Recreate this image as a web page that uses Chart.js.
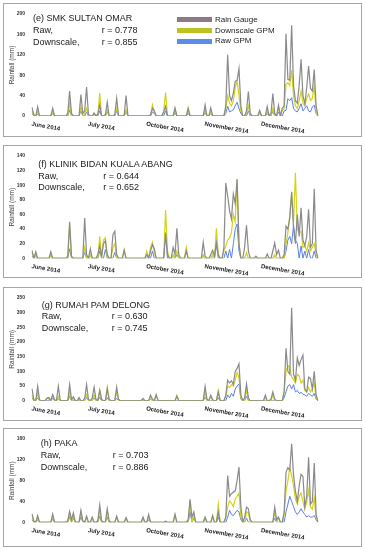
<!DOCTYPE html>
<html>
<head>
<meta charset="utf-8">
<script src="https://cdn.jsdelivr.net/npm/chart.js@4.4.1/dist/chart.umd.min.js"></script>
<style>
body{margin:0;width:366px;height:550px;background:#fff;position:relative;overflow:hidden;font-family:"Liberation Sans",Arial,sans-serif;color:#1a1a1a}
.panel{position:absolute;left:3px;width:359px;box-sizing:border-box;border:1px solid #a6a6a6}
.t{position:absolute;font-size:9px;line-height:12px;white-space:nowrap}
.lg{position:absolute;left:215px;font-size:8px;line-height:10px;white-space:nowrap;color:#222}
.bx{position:absolute;left:177px;width:35px;height:5px}
</style>
</head>
<body>
<div class="panel" style="top:3px;height:134px"><canvas id="c0"></canvas></div>
<div class="panel" style="top:145px;height:133px"><canvas id="c1"></canvas></div>
<div class="panel" style="top:287px;height:134px"><canvas id="c2"></canvas></div>
<div class="panel" style="top:428px;height:119px"><canvas id="c3"></canvas></div>

<!-- station notes -->
<div class="t" style="left:33px;top:12px">(e) SMK SULTAN OMAR</div>
<div class="t" style="left:33px;top:24px">Raw,</div><div class="t" style="left:101.7px;top:24px">r = 0.778</div>
<div class="t" style="left:33px;top:36px">Downscale,</div><div class="t" style="left:101.7px;top:36px">r = 0.855</div>

<div class="t" style="left:38.3px;top:158px">(f) KLINIK BIDAN KUALA ABANG</div>
<div class="t" style="left:38.3px;top:169.7px">Raw,</div><div class="t" style="left:103.3px;top:169.7px">r = 0.644</div>
<div class="t" style="left:38.3px;top:181.3px">Downscale,</div><div class="t" style="left:103.3px;top:181.3px">r = 0.652</div>

<div class="t" style="left:41.7px;top:298.5px">(g) RUMAH PAM DELONG</div>
<div class="t" style="left:41.7px;top:310.3px">Raw,</div><div class="t" style="left:111.7px;top:310.3px">r = 0.630</div>
<div class="t" style="left:41.7px;top:322px">Downscale,</div><div class="t" style="left:111.7px;top:322px">r = 0.745</div>

<div class="t" style="left:40.7px;top:437px">(h) PAKA</div>
<div class="t" style="left:40.7px;top:449px">Raw,</div><div class="t" style="left:112.7px;top:449px">r = 0.703</div>
<div class="t" style="left:40.7px;top:461px">Downscale,</div><div class="t" style="left:112.7px;top:461px">r = 0.886</div>

<!-- legend -->
<div class="bx" style="top:17px;background:#8e7a86"></div><div class="lg" style="top:15.3px">Rain Gauge</div>
<div class="bx" style="top:27.8px;background:#bcc21f"></div><div class="lg" style="top:25.7px">Downscale GPM</div>
<div class="bx" style="top:38.5px;background:#5b8de6"></div><div class="lg" style="top:35.9px">Raw GPM</div>

<script>
// daily values, months Jun, Jul, Oct, Nov, Dec 2014
const monthNames = ['June 2014', 'July 2014', 'October 2014', 'November 2014', 'December 2014'];
const monthDays = [30, 31, 31, 30, 31];

// (e) SMK Sultan Omar
const gaugeE = [
  17,2,0,18,0,0,0,0,0,0, 0,15,0,0,0,0,0,0,0,5, 49,5,0,0,0,0,42,5,10,57,
  3,0,0,6,0,4,22,0,0,3, 27,0,0,0,3,35,0,0,0,2, 40,0,0,0,0,0,0,0,0,0,0,
  0,0,2,15,10,0,0,0,0,8, 19,0,0,0,0,16,0,0,0,0, 0,0,14,0,0,0,0,0,0,0,0,
  22,0,0,16,0,0,0,0,0,0, 0,20,120,40,30,45,68,70,93,20, 0,0,10,48,5,0,0,0,0,11,
  0,0,0,19,0,5,44,5,0,21, 0,15,20,161,72,70,178,60,30,25, 60,111,40,24,55,98,54,49,91,20,0
];
const downE = [
  10,0,0,8,0,0,0,0,0,0, 0,8,0,0,0,0,0,0,0,0, 25,0,0,0,0,0,18,0,5,15,
  0,0,0,3,0,0,45,0,0,0, 12,0,0,0,0,15,0,0,0,0, 12,0,0,0,0,0,0,0,0,0,0,
  0,0,0,22,8,0,0,0,0,10, 46,0,0,0,0,14,0,0,0,0, 0,0,17,0,0,0,0,0,0,0,0,
  12,0,0,8,0,0,0,0,0,0, 0,15,40,25,20,30,55,68,40,10, 0,0,5,20,0,0,0,0,0,5,
  0,0,0,10,0,0,15,0,0,18, 0,10,15,62,65,60,90,40,20,15, 30,49,25,20,35,43,30,35,58,10,0
];
const rawE = [
  5,0,0,4,0,0,0,0,0,0, 0,5,0,0,0,0,0,0,0,0, 12,0,0,0,0,0,10,0,0,8,
  0,0,0,5,0,0,10,0,0,0, 8,0,0,0,0,10,0,0,0,0, 8,0,0,0,0,0,0,0,0,0,0,
  0,0,0,8,5,0,0,0,0,0, 10,0,0,0,0,6,0,0,0,0, 0,0,5,0,0,0,0,0,0,0,0,
  6,0,0,5,0,0,0,0,0,0, 0,5,19,8,10,12,20,27,15,5, 0,0,0,10,0,0,0,0,0,8,
  0,0,0,5,0,0,10,0,0,8, 0,0,10,11,34,30,36,15,10,8, 15,24,10,15,20,10,8,18,21,5,0
];

// (f) Klinik Bidan Kuala Abang
const gaugeF = [
  11,0,9,0,0,0,0,0,0,0, 9,0,0,0,0,0,0,0,0,3, 50,3,0,0,0,0,0,0,55,5,
  0,13,0,0,0,5,17,3,20,24, 5,0,0,32,37,5,0,0,0,11, 0,0,0,0,0,0,0,0,0,0,0,
  5,0,10,19,13,0,0,0,0,0, 34,5,0,0,15,5,41,5,0,0, 0,10,0,0,0,0,0,0,0,0,22,
  3,0,0,5,11,3,22,5,0,0, 15,103,85,65,54,88,75,108,20,0, 0,15,45,10,0,0,0,3,0,0,
  0,0,0,6,0,0,10,21,5,11, 0,0,5,44,40,55,91,40,20,60, 30,69,25,17,30,67,15,20,95,10,0
];
const downF = [
  8,0,5,0,0,0,0,0,0,0, 5,0,0,0,0,0,0,0,0,0, 45,0,0,0,0,0,0,0,15,0,
  0,5,0,0,0,0,30,0,25,28, 0,0,0,15,20,0,0,0,0,12, 0,0,0,0,0,0,0,0,0,0,0,
  10,0,15,22,8,0,0,0,0,0, 66,10,0,0,5,0,10,0,0,0, 0,15,0,0,0,0,0,0,0,0,5,
  0,0,0,0,5,0,41,5,0,0, 10,17,25,28,35,60,50,108,20,0, 0,0,8,0,0,0,0,0,0,0,
  0,0,0,0,0,0,0,5,0,0, 0,0,0,20,35,60,88,50,117,40, 35,37,15,17,10,21,10,15,20,5,0
];
const rawF = [
  3,0,0,0,0,0,0,0,0,0, 0,0,0,0,0,0,0,0,0,0, 13,0,0,0,0,0,0,0,8,0,
  0,0,0,0,0,0,10,0,0,12, 0,0,0,0,8,0,0,0,0,0, 0,0,0,0,0,0,0,0,0,0,0,
  0,0,0,10,0,0,0,0,0,0, 35,0,0,0,0,0,5,0,0,0, 0,0,0,0,0,0,0,0,0,0,0,
  0,0,0,0,0,0,19,0,0,0, 0,10,0,12,0,20,40,47,10,0, 0,0,0,0,0,0,0,0,0,0,
  0,0,0,0,0,0,0,0,0,0, 0,0,0,10,25,30,20,45,25,20, 0,17,0,10,0,12,0,0,10,0,0
];

// (g) Rumah Pam Delong
const gaugeG = [
  41,3,0,49,3,0,0,0,8,11, 0,21,3,0,49,2,0,0,0,0, 55,5,13,0,0,11,0,0,8,55,
  5,0,10,46,5,0,35,5,0,0, 40,5,0,0,0,46,5,0,0,0, 0,0,0,0,0,0,0,0,0,8,0,
  0,0,19,5,0,21,0,0,0,0, 0,0,0,0,0,0,15,0,0,0, 0,0,0,0,0,0,0,0,0,0,0,
  49,5,0,19,3,0,0,30,0,0, 0,20,70,60,68,55,100,110,126,20, 0,10,57,10,0,0,0,0,0,0,
  0,0,19,0,0,5,30,5,0,0, 0,0,30,179,100,90,317,90,70,146, 120,140,155,40,30,80,75,40,100,20,0
];
const downG = [
  20,0,0,25,0,0,0,0,10,5, 0,20,0,0,15,0,0,0,0,0, 30,0,8,0,0,5,0,0,0,20,
  0,0,0,20,0,0,35,0,0,0, 46,0,0,0,0,30,0,0,0,0, 0,0,0,0,0,0,0,0,0,5,0,
  0,0,15,0,0,18,0,0,0,0, 0,0,0,0,0,0,19,0,0,0, 0,0,0,0,0,0,0,0,0,0,0,
  30,0,0,15,0,0,0,35,0,0, 0,15,50,45,55,50,70,96,80,10, 0,0,40,0,0,0,0,0,0,0,
  0,0,10,0,0,0,20,0,0,0, 0,0,30,100,120,113,80,73,60,90, 85,60,70,35,30,45,30,40,60,10,0
];
const rawG = [
  10,0,0,10,0,0,0,0,0,0, 0,8,0,0,5,0,0,0,0,0, 15,0,0,0,0,0,0,0,0,10,
  0,0,0,10,0,0,12,0,0,0, 10,0,0,0,0,8,0,0,0,0, 0,0,0,0,0,0,0,0,0,0,0,
  0,0,5,0,0,0,0,0,0,0, 0,0,0,0,0,0,0,0,0,0, 0,0,0,0,0,0,0,0,0,0,0,
  12,0,0,0,0,0,0,10,0,0, 0,0,20,10,25,15,40,50,57,5, 0,0,15,0,0,0,0,0,0,0,
  0,0,0,0,0,0,0,0,0,0, 0,0,10,30,50,55,40,55,30,35, 25,28,22,20,15,25,20,15,25,5,0
];

// (h) Paka
const gaugeH = [
  16,2,0,13,0,0,0,0,0,0, 0,16,0,0,0,0,0,0,0,3, 21,5,18,0,0,0,23,3,0,12,
  0,0,10,0,0,3,33,3,0,0, 26,3,0,0,0,12,0,0,0,0, 9,0,0,0,0,0,0,0,0,10,0,
  0,15,0,0,0,0,0,0,0,0, 2,0,0,0,0,16,0,0,0,0, 0,0,5,44,10,20,0,0,0,0,0,
  10,0,0,0,13,0,0,20,0,0, 0,10,90,50,55,58,60,80,106,30, 0,10,29,26,5,0,0,0,0,0,
  0,0,0,0,0,0,0,29,5,10, 0,0,20,96,105,100,151,90,60,40, 70,92,88,30,50,125,35,40,114,15,0
];
const downH = [
  10,0,0,10,0,0,0,0,0,0, 0,12,0,0,0,0,0,0,0,0, 18,0,15,0,0,0,20,0,0,10,
  0,0,8,0,0,0,25,0,0,0, 22,0,0,0,0,10,0,0,0,0, 8,0,0,0,0,0,0,0,0,8,0,
  0,12,0,0,0,0,0,0,0,0, 0,0,0,0,0,12,0,0,0,0, 0,0,0,41,0,15,0,0,0,0,0,
  8,0,0,0,10,0,0,35,0,0, 0,10,30,41,37,30,45,50,56,10, 0,0,20,18,0,0,0,0,0,0,
  0,0,0,0,0,0,0,20,0,8, 0,0,15,60,80,105,90,70,45,35, 50,56,40,25,40,62,30,25,47,10,0
];
const rawH = [
  5,0,0,5,0,0,0,0,0,0, 0,6,0,0,0,0,0,0,0,0, 10,0,8,0,0,0,10,0,0,0,
  0,0,0,0,0,0,12,0,0,0, 10,0,0,0,0,0,0,0,0,0, 0,0,0,0,0,0,0,0,0,0,0,
  0,5,0,0,0,0,0,0,0,0, 0,0,0,0,0,0,0,0,0,0, 0,0,0,20,0,8,0,0,0,0,0,
  0,0,0,0,0,0,0,10,0,0, 0,0,10,23,15,13,18,23,20,5, 0,0,8,0,0,0,0,0,0,0,
  0,0,0,0,0,0,0,8,0,0, 0,0,0,20,35,50,40,30,20,15, 20,26,20,15,10,13,10,10,13,5,0
];

// category labels, one per day
const days = [];
const monthStarts = [];
monthNames.forEach((m, i) => {
  monthStarts.push(days.length);
  for (let d = 1; d <= monthDays[i]; d++) days.push(m.split(' ')[0] + ' ' + d);
});

const panels = [
  {id: 'c0', gauge: gaugeE, down: downE, raw: rawE, max: 200, step: 40, top: 6, bottom: 20},
  {id: 'c1', gauge: gaugeF, down: downF, raw: rawF, max: 140, step: 20, top: 4, bottom: 18.7},
  {id: 'c2', gauge: gaugeG, down: downG, raw: rawG, max: 350, step: 50, top: 7, bottom: 19.3},
  {id: 'c3', gauge: gaugeH, down: downH, raw: rawH, max: 160, step: 40, top: 6, bottom: 23.7}
];

// slanted month names under the plot
const monthLabels = {
  id: 'monthLabels',
  afterDraw(chart) {
    const {ctx, chartArea, scales: {x}} = chart;
    ctx.save();
    ctx.font = 'bold 6px "Liberation Sans", Arial, sans-serif';
    ctx.fillStyle = '#222';
    ctx.textAlign = 'left';
    ctx.textBaseline = 'top';
    monthStarts.forEach((idx, i) => {
      ctx.save();
      ctx.translate(x.getPixelForValue(idx), chartArea.bottom + 5);
      ctx.rotate(10 * Math.PI / 180);
      ctx.fillText(monthNames[i], 0, 0);
      ctx.restore();
    });
    ctx.restore();
  }
};

function line(label, data, color, fill, width) {
  return {label: label, data: data, borderColor: color, backgroundColor: fill,
    borderWidth: width, pointRadius: 0, tension: 0, fill: false};
}

panels.forEach(p => {
  new Chart(document.getElementById(p.id), {
    type: 'line',
    data: {
      labels: days,
      datasets: [
        line('Rain Gauge', p.gauge, '#8a8a8a', '#8e7a86', 1.2),
        line('Downscale GPM', p.down, '#d3d31c', '#bcc21f', 1.2),
        line('Raw GPM', p.raw, '#5c7fe6', '#5b8de6', 1)
      ]
    },
    options: {
      responsive: true,
      maintainAspectRatio: false,
      animation: false,
      layout: {padding: {left: 0, right: 43, top: p.top, bottom: p.bottom}},
      scales: {
        x: {type: 'category', display: false},
        y: {
          min: 0, max: p.max,
          afterFit: s => { s.width = 28; },
          grid: {display: false, drawTicks: false},
          border: {display: false},
          ticks: {stepSize: p.step, padding: 7, color: '#333',
            font: {size: 5, weight: 'bold', family: '"Liberation Sans", Arial, sans-serif'}},
          title: {display: true, text: 'Rainfall (mm)', color: '#444', padding: {top: 4, bottom: 0},
            font: {size: 6.5, family: '"Liberation Sans", Arial, sans-serif'}}
        }
      },
      plugins: {legend: {display: false}, tooltip: {enabled: false}}
    },
    plugins: [monthLabels]
  });
});
</script>
</body>
</html>
